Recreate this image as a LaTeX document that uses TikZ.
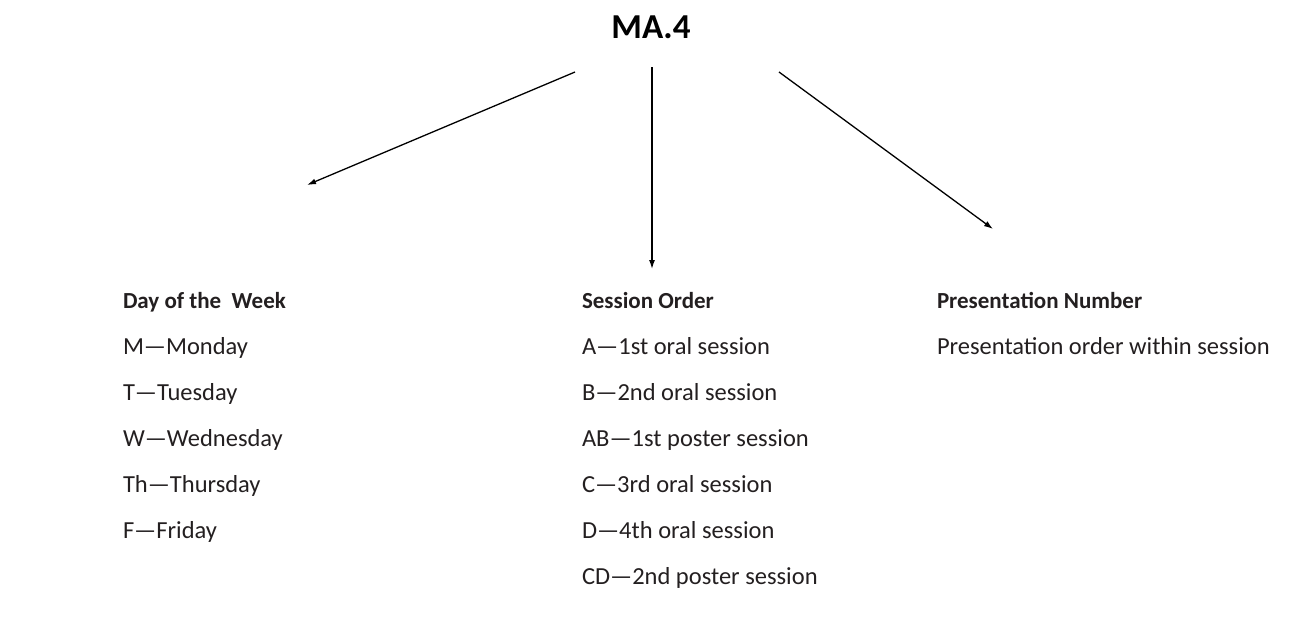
\documentclass[tikz,border=0pt]{standalone}
\usepackage{fontspec}
\usetikzlibrary{arrows.meta}
\setmainfont{Carlito}
\definecolor{textgray}{HTML}{231F20}
\begin{document}
\begin{tikzpicture}[x=1pt,y=-1pt,inner sep=0pt,outer sep=0pt,>={Latex[length=9pt,width=6pt]},
head/.style={font=\fontsize{35}{40}\selectfont\bfseries,anchor=base},
title/.style={font=\fontsize{23}{28}\selectfont\bfseries,text=textgray,anchor=base west},
item/.style={font=\fontsize{24.5}{28}\selectfont,text=textgray,anchor=base west},
arr/.style={->,line width=1.3pt}]
\useasboundingbox (0,0) rectangle (1312,641);
\draw (651,38) node[head] (code) {MA.4};
% left column
\draw (123,308) node[title] (day) {Day of the\ \ Week};
\draw (123,354) node[item] (mon) {M---Monday};
\draw (123,400) node[item] (tue) {T---Tuesday};
\draw (123,446) node[item] (wed) {W---Wednesday};
\draw (123,492) node[item] (thu) {Th---Thursday};
\draw (123,538) node[item] (fri) {F---Friday};
% middle column
\draw (582,308) node[title] (sess) {Session Order};
\draw (582,354) node[item] (sa) {A---1st oral session};
\draw (582,400) node[item] (sb) {B---2nd oral session};
\draw (582,446) node[item] (sab) {AB---1st poster session};
\draw (582,492) node[item] (sc) {C---3rd oral session};
\draw (582,538) node[item] (sd) {D---4th oral session};
\draw (582,584) node[item] (scd) {CD---2nd poster session};
% right column
\draw (937,308) node[title] (pres) {Presentation Number};
\draw (937,354) node[item] (porder) {Presentation order within session};
% arrows
\coordinate (s1) at (575,72);
\coordinate (e1) at (307,185);
\coordinate (s2) at (652,67);
\coordinate (e2) at (652,269);
\coordinate (s3) at (779,72);
\coordinate (e3) at (993,229);
\draw[arr] (s1) -- (e1);
\draw[arr] (s2) -- (e2);
\draw[arr] (s3) -- (e3);
\end{tikzpicture}
\end{document}
